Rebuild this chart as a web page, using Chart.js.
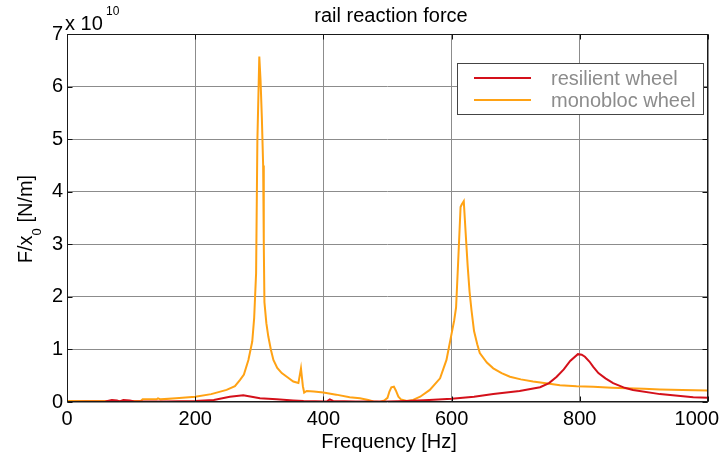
<!DOCTYPE html>
<html>
<head>
<meta charset="utf-8">
<script src="https://cdn.jsdelivr.net/npm/chart.js@4.4.1/dist/chart.umd.min.js"></script>
<style>
html, body { margin: 0; padding: 0; background: #fff; }
canvas { display: block; }
</style>
</head>
<body>
<canvas id="forceChart" width="719" height="457"></canvas>
<script>
// 系列名と色
const seriesLabels = ['resilient wheel', 'monobloc wheel'];
const seriesColors = ['#d4101a', '#ffa214'];

// resilient wheel: 周波数 [Hz] と F/x0 [x 1e10 N/m]
const resilientFreq = [0, 60, 70, 78, 82, 88, 98, 105, 150, 200, 229, 254, 275, 288, 301, 327, 353, 369, 405, 410, 415, 450, 500, 530, 565, 600, 635, 665, 706, 738, 752, 764, 775, 785, 797, 803, 808, 815, 821, 829, 840, 852, 870, 883, 925, 977, 1000];
const resilientForce = [0.0, 0.01, 0.04, 0.03, 0.01, 0.04, 0.03, 0.01, 0.01, 0.02, 0.04, 0.1, 0.13, 0.1, 0.07, 0.05, 0.03, 0.02, 0.01, 0.05, 0.02, 0.01, 0.01, 0.02, 0.04, 0.06, 0.1, 0.15, 0.21, 0.28, 0.36, 0.48, 0.62, 0.78, 0.91, 0.9, 0.86, 0.77, 0.67, 0.55, 0.45, 0.36, 0.27, 0.23, 0.15, 0.09, 0.08];

// monobloc wheel: 周波数 [Hz] と F/x0 [x 1e10 N/m]
const monoblocFreq = [0, 60, 115, 118, 140, 142, 146, 170, 200, 225, 249, 262, 270, 276, 283, 289, 292, 295, 297, 300, 302, 304, 306, 307, 308, 311, 314, 318, 322, 328, 335, 345, 353, 361, 365, 368, 370, 374, 385, 400, 420, 441, 457, 470, 478, 488, 495, 500, 503, 506, 510, 513, 517, 521, 530, 540, 551, 566, 582, 592, 600, 604, 607, 610, 614, 616, 619, 622, 625, 628, 631, 635, 640, 644, 655, 665, 678, 691, 708, 727, 750, 769, 795, 821, 850, 873, 900, 925, 960, 1000];
const monoblocForce = [0.02, 0.02, 0.02, 0.05, 0.05, 0.07, 0.05, 0.07, 0.1, 0.15, 0.23, 0.3, 0.42, 0.52, 0.8, 1.15, 1.6, 2.45, 4.98, 6.57, 6.1, 5.4, 4.5, 3.0, 1.9, 1.5, 1.25, 1.0, 0.8, 0.65, 0.55, 0.46, 0.39, 0.36, 0.64, 0.3, 0.18, 0.21, 0.2, 0.18, 0.14, 0.09, 0.07, 0.04, 0.01, 0.0, 0.03, 0.08, 0.2, 0.28, 0.29, 0.22, 0.1, 0.05, 0.02, 0.04, 0.1, 0.23, 0.45, 0.8, 1.3, 1.55, 1.8, 2.6, 3.71, 3.76, 3.82, 3.2, 2.6, 2.1, 1.75, 1.35, 1.1, 0.93, 0.75, 0.64, 0.55, 0.48, 0.43, 0.39, 0.35, 0.32, 0.3, 0.29, 0.27, 0.26, 0.25, 0.24, 0.23, 0.22];

// 軸の目盛
const xTicks = [0, 200, 400, 600, 800, 1000];
const yTicks = [0, 1, 2, 3, 4, 5, 6, 7];

const FONT = "'Liberation Sans', Arial, sans-serif";
Chart.defaults.font.family = FONT;
Chart.defaults.font.size = 20;
Chart.defaults.color = '#000';

const toPoints = (xs, ys) => xs.map((x, i) => ({ x: x, y: ys[i] }));
const lastX = xTicks[xTicks.length - 1];

// 枠線・内向き目盛・タイトル・凡例を描くプラグイン
const decorPlugin = {
    id: 'decor',
    afterDraw(chart) {
        const { ctx, chartArea: a, scales } = chart;
        const L = Math.round(a.left) + 0.5, R = Math.round(a.right) - 0.5;
        const T = Math.round(a.top) + 0.5, B = Math.round(a.bottom) - 0.5;
        ctx.save();

        // 内向きの目盛
        ctx.strokeStyle = '#111';
        ctx.lineWidth = 1;
        ctx.beginPath();
        xTicks.forEach(v => {
            const x = Math.round(scales.x.getPixelForValue(v)) + 0.5;
            ctx.moveTo(x, B); ctx.lineTo(x, B - 5);
            ctx.moveTo(x, T); ctx.lineTo(x, T + 5);
        });
        yTicks.forEach(v => {
            const y = Math.round(scales.y.getPixelForValue(v)) + 0.5;
            ctx.moveTo(L, y); ctx.lineTo(L + 5, y);
            ctx.moveTo(R, y); ctx.lineTo(R - 5, y);
        });
        ctx.stroke();

        // 枠
        ctx.strokeStyle = '#1a1a1a';
        ctx.strokeRect(L, T, R - L, B - T);

        // 右端の目盛ラベル（キャンバス内に収める）
        ctx.fillStyle = '#000';
        ctx.font = '20px ' + FONT;
        ctx.textAlign = 'right';
        ctx.textBaseline = 'middle';
        ctx.fillText(String(lastX), 719, a.bottom + 5 + 12);

        // タイトル
        ctx.textAlign = 'center';
        ctx.textBaseline = 'alphabetic';
        ctx.fillText('rail reaction force', 391, 22);

        // x 軸ラベル
        ctx.fillText('Frequency [Hz]', 389, 448);

        // 指数表記 x 10^10
        ctx.textAlign = 'left';
        ctx.fillText('x 10', 65, 30);
        ctx.font = '12px ' + FONT;
        ctx.fillText('10', 106, 15);

        // y 軸ラベル（下付き文字つき）
        ctx.save();
        ctx.translate(32, 219);
        ctx.rotate(-Math.PI / 2);
        ctx.font = '20px ' + FONT;
        const w1 = ctx.measureText('F/x').width;
        const w3 = ctx.measureText(' [N/m]').width;
        ctx.font = '13px ' + FONT;
        const w2 = ctx.measureText('0').width;
        let x0 = -(w1 + w2 + w3) / 2;
        ctx.font = '20px ' + FONT;
        ctx.fillText('F/x', x0, 0);
        ctx.font = '13px ' + FONT;
        ctx.fillText('0', x0 + w1, 9);
        ctx.font = '20px ' + FONT;
        ctx.fillText(' [N/m]', x0 + w1 + w2, 0);
        ctx.restore();

        // 凡例
        const box = { x: 457.5, y: 63.5, w: 246, h: 51 };
        ctx.fillStyle = '#fff';
        ctx.fillRect(box.x, box.y, box.w, box.h);
        ctx.strokeStyle = '#444';
        ctx.strokeRect(box.x, box.y, box.w, box.h);
        ctx.font = '20px ' + FONT;
        ctx.lineWidth = 2;
        seriesLabels.forEach((label, i) => {
            const y = 78 + i * 22;
            ctx.strokeStyle = seriesColors[i];
            ctx.beginPath();
            ctx.moveTo(474, y); ctx.lineTo(531, y);
            ctx.stroke();
            ctx.fillStyle = '#8c8c8c';
            ctx.fillText(label, 551, y + 7);
        });

        ctx.restore();
    }
};

const ctx = document.getElementById('forceChart').getContext('2d');
new Chart(ctx, {
    type: 'line',
    data: {
        datasets: [
            { label: seriesLabels[0], data: toPoints(resilientFreq, resilientForce), borderColor: seriesColors[0], borderWidth: 2, pointRadius: 0, tension: 0, fill: false },
            { label: seriesLabels[1], data: toPoints(monoblocFreq, monoblocForce), borderColor: seriesColors[1], borderWidth: 2, pointRadius: 0, tension: 0, fill: false },
        ]
    },
    options: {
        responsive: false,
        animation: false,
        devicePixelRatio: 1,
        layout: { padding: { top: 34, right: 11, left: 0, bottom: 0 } },
        plugins: {
            legend: { display: false },
            title: { display: false },
            tooltip: { enabled: false },
        },
        scales: {
            x: {
                type: 'linear',
                min: 0, max: 1000,
                afterBuildTicks: s => { s.ticks = xTicks.map(v => ({ value: v })); },
                // 端のラベルで描画領域が縮まないように余白を消す
                afterFit: s => { s.height = 55; s.paddingLeft = 0; s.paddingRight = 0; },
                grid: { color: '#8c8c8c', lineWidth: 1, drawTicks: false },
                border: { display: false },
                // 最後のラベルはプラグイン側で描く
                ticks: { padding: 5, maxRotation: 0, autoSkip: false, font: { size: 20 }, color: '#000', callback: v => (v === lastX ? '' : String(v)) },
            },
            y: {
                type: 'linear',
                min: 0, max: 7,
                afterBuildTicks: s => { s.ticks = yTicks.map(v => ({ value: v })); },
                afterFit: s => { s.width = 67; s.paddingTop = 0; s.paddingBottom = 0; },
                grid: { color: '#8c8c8c', lineWidth: 1, drawTicks: false },
                border: { display: false },
                ticks: { padding: 4, font: { size: 20 }, color: '#000' },
            },
        },
    },
    plugins: [decorPlugin],
});
</script>
</body>
</html>
